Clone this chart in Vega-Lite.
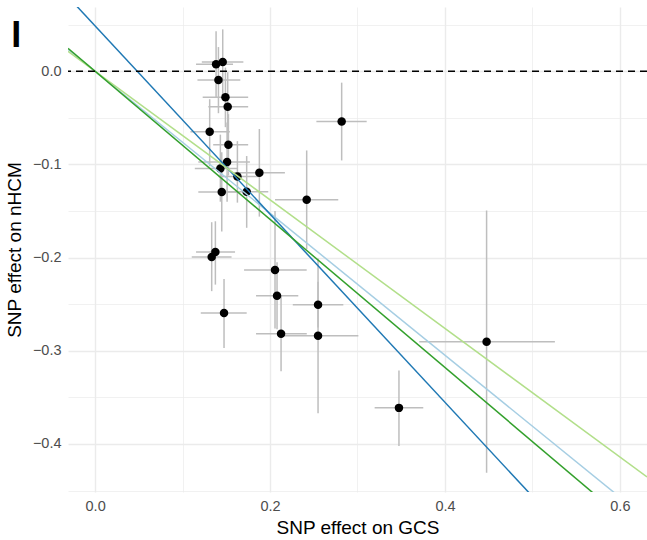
{
  "$schema": "https://vega.github.io/schema/vega-lite/v6.json",
  "width": 579,
  "height": 485,
  "autosize": "none",
  "padding": {"left": 68, "top": 7, "right": 0, "bottom": 48},
  "config": {
    "view": {"stroke": null},
    "font": "Liberation Sans",
    "axis": {
      "domain": false,
      "ticks": false,
      "labelColor": "#4D4D4D",
      "labelFontSize": 14.5,
      "titleFontSize": 19,
      "titleFontWeight": "normal",
      "titleColor": "#000000",
      "gridColor": "#EBEBEB"
    }
  },
  "datasets": {
    "snps": [
      {"bx": 0.1383, "by": 0.0075, "bxlo": 0.1154, "bxhi": 0.1577, "bylo": -0.028, "byhi": 0.043},
      {"bx": 0.1459, "by": 0.0100, "bxlo": 0.122, "bxhi": 0.1695, "bylo": -0.025, "byhi": 0.045},
      {"bx": 0.1410, "by": -0.0093, "bxlo": 0.117, "bxhi": 0.166, "bylo": -0.045, "byhi": 0.026},
      {"bx": 0.1490, "by": -0.0280, "bxlo": 0.123, "bxhi": 0.175, "bylo": -0.060, "byhi": 0.004},
      {"bx": 0.1516, "by": -0.0380, "bxlo": 0.1295, "bxhi": 0.175, "bylo": -0.075, "byhi": -0.001},
      {"bx": 0.1310, "by": -0.0649, "bxlo": 0.109, "bxhi": 0.154, "bylo": -0.102, "byhi": -0.030},
      {"bx": 0.1524, "by": -0.0789, "bxlo": 0.135, "bxhi": 0.175, "bylo": -0.112, "byhi": -0.046},
      {"bx": 0.1509, "by": -0.0975, "bxlo": 0.118, "bxhi": 0.177, "bylo": -0.140, "byhi": -0.055},
      {"bx": 0.1432, "by": -0.1043, "bxlo": 0.114, "bxhi": 0.163, "bylo": -0.140, "byhi": -0.068},
      {"bx": 0.1627, "by": -0.1129, "bxlo": 0.141, "bxhi": 0.189, "bylo": -0.141, "byhi": -0.075},
      {"bx": 0.1878, "by": -0.1090, "bxlo": 0.158, "bxhi": 0.217, "bylo": -0.156, "byhi": -0.062},
      {"bx": 0.1733, "by": -0.1294, "bxlo": 0.146, "bxhi": 0.198, "bylo": -0.168, "byhi": -0.091},
      {"bx": 0.1448, "by": -0.1297, "bxlo": 0.118, "bxhi": 0.166, "bylo": -0.172, "byhi": -0.087},
      {"bx": 0.2419, "by": -0.1380, "bxlo": 0.2057, "bxhi": 0.278, "bylo": -0.191, "byhi": -0.085},
      {"bx": 0.1375, "by": -0.1939, "bxlo": 0.1154, "bxhi": 0.160, "bylo": -0.229, "byhi": -0.161},
      {"bx": 0.1333, "by": -0.1993, "bxlo": 0.1105, "bxhi": 0.156, "bylo": -0.236, "byhi": -0.162},
      {"bx": 0.2057, "by": -0.2133, "bxlo": 0.1703, "bxhi": 0.2419, "bylo": -0.276, "byhi": -0.150},
      {"bx": 0.2080, "by": -0.2409, "bxlo": 0.184, "bxhi": 0.2323, "bylo": -0.277, "byhi": -0.205},
      {"bx": 0.1474, "by": -0.2595, "bxlo": 0.1208, "bxhi": 0.1733, "bylo": -0.297, "byhi": -0.223},
      {"bx": 0.2549, "by": -0.2505, "bxlo": 0.226, "bxhi": 0.2838, "bylo": -0.275, "byhi": -0.226},
      {"bx": 0.2126, "by": -0.2817, "bxlo": 0.184, "bxhi": 0.242, "bylo": -0.322, "byhi": -0.241},
      {"bx": 0.2549, "by": -0.2839, "bxlo": 0.2133, "bxhi": 0.301, "bylo": -0.367, "byhi": -0.201},
      {"bx": 0.2819, "by": -0.0538, "bxlo": 0.253, "bxhi": 0.3105, "bylo": -0.0957, "byhi": -0.0122},
      {"bx": 0.4476, "by": -0.2903, "bxlo": 0.3706, "bxhi": 0.5257, "bylo": -0.431, "byhi": -0.1495},
      {"bx": 0.3474, "by": -0.3613, "bxlo": 0.3196, "bxhi": 0.3752, "bylo": -0.4022, "byhi": -0.3212}
    ],
    "fits": [
      {"method": "Inverse variance weighted", "x": -0.031, "y": 0.0236},
      {"method": "Inverse variance weighted", "x": 0.631, "y": -0.4808},
      {"method": "MR Egger", "x": -0.031, "y": 0.0800},
      {"method": "MR Egger", "x": 0.631, "y": -0.5886},
      {"method": "Weighted median", "x": -0.031, "y": 0.0214},
      {"method": "Weighted median", "x": 0.631, "y": -0.4354},
      {"method": "Weighted mode", "x": -0.031, "y": 0.0246},
      {"method": "Weighted mode", "x": 0.631, "y": -0.5016}
    ],
    "zero": [{"y": 0}],
    "tag": [{"tag": "I"}]
  },
  "layer": [
    {
      "data": {"name": "snps"},
      "mark": {"type": "rule", "color": "#BEBEBE", "strokeWidth": 1.5},
      "encoding": {
        "x": {
          "field": "bxlo", "type": "quantitative",
          "scale": {"domain": [-0.031, 0.631], "nice": false, "zero": false},
          "axis": {
            "title": "SNP effect on GCS",
            "values": [0, 0.1, 0.2, 0.3, 0.4, 0.5, 0.6],
            "labelExpr": "round(datum.value*10) % 2 === 0 ? format(datum.value, '.1f') : ''",
            "gridWidth": {"condition": {"test": "round(datum.value*10) % 2 !== 0", "value": 0.7}, "value": 1.4},
            "labelPadding": 7,
            "titlePadding": 6
          }
        },
        "x2": {"field": "bxhi"},
        "y": {
          "field": "by", "type": "quantitative",
          "scale": {"domain": [-0.4516, 0.069], "nice": false, "zero": false},
          "axis": {
            "title": "SNP effect on nHCM",
            "values": [0.05, 0, -0.05, -0.1, -0.15, -0.2, -0.25, -0.3, -0.35, -0.4, -0.45],
            "labelExpr": "round(datum.value*20) % 2 === 0 ? replace(format(datum.value, '.1f'), '-', '\u2212') : ''",
            "gridWidth": {"condition": {"test": "round(datum.value*20) % 2 !== 0", "value": 0.7}, "value": 1.4},
            "labelPadding": 7,
            "titlePadding": 8
          }
        }
      }
    },
    {
      "data": {"name": "snps"},
      "mark": {"type": "rule", "color": "#BEBEBE", "strokeWidth": 1.5},
      "encoding": {
        "x": {"field": "bx", "type": "quantitative"},
        "y": {"field": "bylo", "type": "quantitative"},
        "y2": {"field": "byhi"}
      }
    },
    {
      "data": {"name": "snps"},
      "mark": {"type": "point", "filled": true, "color": "#000000", "size": 72, "opacity": 1},
      "encoding": {
        "x": {"field": "bx", "type": "quantitative"},
        "y": {"field": "by", "type": "quantitative"}
      }
    },
    {
      "data": {"name": "fits"},
      "mark": {"type": "line", "strokeWidth": 1.5, "clip": true},
      "encoding": {
        "x": {"field": "x", "type": "quantitative"},
        "y": {"field": "y", "type": "quantitative"},
        "color": {
          "field": "method", "type": "nominal",
          "scale": {
            "domain": ["Inverse variance weighted", "MR Egger", "Weighted median", "Weighted mode"],
            "range": ["#A6CEE3", "#1F78B4", "#B2DF8A", "#33A02C"]
          },
          "legend": null
        }
      }
    },
    {
      "data": {"name": "zero"},
      "mark": {"type": "rule", "color": "#000000", "strokeWidth": 1.5, "strokeDash": [7, 5]},
      "encoding": {
        "y": {"field": "y", "type": "quantitative"}
      }
    },
    {
      "data": {"name": "tag"},
      "mark": {"type": "text", "fontSize": 36, "fontWeight": "bold", "color": "#000000", "align": "center", "baseline": "alphabetic", "clip": false},
      "encoding": {
        "x": {"datum": -0.0903, "type": "quantitative"},
        "y": {"datum": 0.0258, "type": "quantitative"},
        "text": {"field": "tag"}
      }
    }
  ]
}
